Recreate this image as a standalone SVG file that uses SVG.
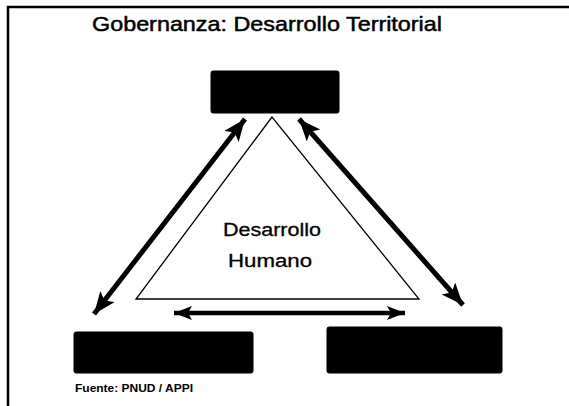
<svg xmlns="http://www.w3.org/2000/svg" width="569" height="406" viewBox="0 0 569 406">
<style>
.box{fill:#000;stroke:#000;stroke-width:1}
.t{font-family:"Liberation Sans",Arial,sans-serif;fill:#000}
.conn{stroke:#000;fill:none}
</style>
<defs>
<marker id="ah" markerUnits="userSpaceOnUse" markerWidth="26" markerHeight="20" refX="22" refY="9" orient="auto-start-reverse">
<path d="M0,0 L22,9 L0,18 L5,9 Z" fill="#000"/>
</marker>
<marker id="ah2" markerUnits="userSpaceOnUse" markerWidth="22" markerHeight="16" refX="18" refY="7" orient="auto-start-reverse">
<path d="M0,0 L18,7 L0,14 L4,7 Z" fill="#000"/>
</marker>
</defs>
<rect width="569" height="406" fill="#fff"/>
<path d="M8,406 V7 H569" fill="none" stroke="#000" stroke-width="2.5"/>
<text class="t" x="92" y="31" font-size="21" stroke="#000" stroke-width="0.5" textLength="350" lengthAdjust="spacingAndGlyphs">Gobernanza: Desarrollo Territorial</text>
<g id="triangle">
<polygon points="272,117 136,299 419,299" fill="#fff" stroke="#000" stroke-width="1.3"/>
<text class="t" x="272" y="236" font-size="18" stroke="#000" stroke-width="0.3" text-anchor="middle" textLength="98" lengthAdjust="spacingAndGlyphs">Desarrollo</text>
<text class="t" x="270" y="267" font-size="18" stroke="#000" stroke-width="0.3" text-anchor="middle" textLength="84" lengthAdjust="spacingAndGlyphs">Humano</text>
</g>
<g id="node-top"><rect class="box" x="211" y="71" width="128" height="42" rx="2"/></g>
<g id="node-left"><rect class="box" x="74" y="332" width="179" height="41" rx="2"/></g>
<g id="node-right"><rect class="box" x="327" y="327" width="175" height="46" rx="2"/></g>
<g id="connectors" class="conn">
<line x1="245" y1="119" x2="94" y2="314" stroke-width="5" marker-start="url(#ah)" marker-end="url(#ah)"/>
<line x1="299" y1="119" x2="463" y2="305" stroke-width="5" marker-start="url(#ah)" marker-end="url(#ah)"/>
<line x1="174" y1="313" x2="405" y2="313" stroke-width="4.5" marker-start="url(#ah2)" marker-end="url(#ah2)"/>
</g>
<text class="t" x="75" y="392" font-size="11" font-weight="bold" textLength="118" lengthAdjust="spacingAndGlyphs">Fuente: PNUD / APPI</text>
</svg>
